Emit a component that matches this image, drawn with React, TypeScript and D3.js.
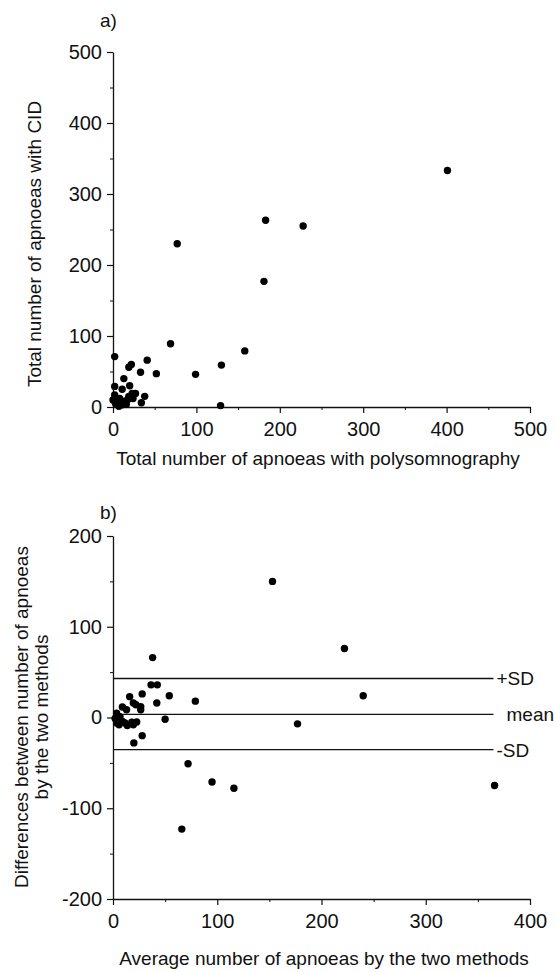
import React, { useEffect, useRef } from "react";
import * as d3 from "d3";

// Panel a: [polysomnography, CID]
const panelA: [number, number][] = [
  [401, 333], [183, 263], [228, 255], [77, 230], [181, 177], [69, 89], [158, 79], [130, 59], [99, 46], [129, 2],
  [2, 71], [41, 66], [22, 60], [19, 56], [33, 49], [52, 47], [13, 40], [2, 29], [20, 30], [11, 25],
  [23, 19], [2, 17], [38, 15], [19, 15], [8, 12], [0, 10], [34, 6], [3, 5], [6, 3], [10, 6],
  [14, 8], [18, 11], [7, 1], [11, 3], [4, 9], [16, 4], [27, 19], [24, 12],
];

// Panel b: [average, difference]
const panelB: [number, number][] = [
  [153, 150], [222, 76], [240, 24], [177, -7], [366, -75], [116, -78], [95, -71], [72, -51], [66, -123],
  [38, 66], [36.5, 36], [42.5, 36], [28, 26], [54, 24], [16, 23], [79, 18], [42, 16], [19.5, 16], [22, 14],
  [26.6, 12], [26.6, 8.5], [9, 11.5], [13, 8.5], [3.5, 4.7], [6.7, 1], [2, -1], [5.8, -8], [9, -4.4],
  [13.7, -8.8], [18, -5.2], [22.7, -5], [50, -2], [28, -20], [20, -28], [3.5, -6], [11.5, -6], [19.5, -8], [5, -2.5],
];

const aTicks = [0, 100, 200, 300, 400, 500];
const aMinor = [50, 150, 250, 350, 450];
const bXTicks = [0, 100, 200, 300, 400];
const bXMinor = [50, 150, 250, 350];
const bYTicks = [-200, -100, 0, 100, 200];
const bYMinor = [-150, -50, 50, 150];

const refLabels = ["+SD", "mean", "-SD"];
const refValues = [43, 3.5, -35.5];
const refLineEnd = 365;

const FONT = "'Liberation Sans', Arial, Helvetica, sans-serif";
const INK = "#111";

export default function App() {
  const ref = useRef<SVGSVGElement>(null);

  useEffect(() => {
    const svg = d3.select(ref.current);
    svg.selectAll("*").remove();

    const styleAxis = (g: any) => {
      g.attr("font-size", 20).attr("font-family", FONT).attr("color", INK);
      g.select(".domain").attr("stroke-width", 1.3);
      g.selectAll(".tick line").attr("stroke-width", 1.2);
    };

    const drawPanel = (
      x: d3.ScaleLinear<number, number>,
      y: d3.ScaleLinear<number, number>,
      xt: number[], xm: number[], yt: number[], ym: number[]
    ) => {
      const [x0] = x.range();
      const [y0] = y.range();
      svg.append("g").attr("transform", `translate(0,${y0})`)
        .call(d3.axisBottom(x).tickValues(xm).tickSize(3).tickSizeOuter(0).tickFormat(() => ""))
        .call((g: any) => { g.select(".domain").remove(); g.attr("color", INK); });
      svg.append("g").attr("transform", `translate(${x0},0)`)
        .call(d3.axisLeft(y).tickValues(ym).tickSize(3).tickSizeOuter(0).tickFormat(() => ""))
        .call((g: any) => { g.select(".domain").remove(); g.attr("color", INK); });
      svg.append("g").attr("transform", `translate(0,${y0})`)
        .call(d3.axisBottom(x).tickValues(xt).tickSize(6).tickPadding(9).tickSizeOuter(0).tickFormat((d: any) => String(d)))
        .call(styleAxis);
      svg.append("g").attr("transform", `translate(${x0},0)`)
        .call(d3.axisLeft(y).tickValues(yt).tickSize(6).tickPadding(5).tickSizeOuter(0).tickFormat((d: any) => String(d)))
        .call(styleAxis);
    };

    // ---------- Panel a ----------
    const xA = d3.scaleLinear().domain([0, 500]).range([113, 530]);
    const yA = d3.scaleLinear().domain([0, 500]).range([407, 52]);
    drawPanel(xA, yA, aTicks, aMinor, aTicks, aMinor);

    svg.append("g").selectAll("circle").data(panelA).join("circle")
      .attr("cx", (d) => xA(d[0])).attr("cy", (d) => yA(d[1])).attr("r", 3.7).attr("fill", "#000");

    svg.append("text").attr("x", 100).attr("y", 27).text("a)")
      .attr("font-family", FONT).attr("font-size", 19).attr("fill", INK);
    svg.append("text").attr("x", 318).attr("y", 465).attr("text-anchor", "middle")
      .text("Total number of apnoeas with polysomnography")
      .attr("font-family", FONT).attr("font-size", 19).attr("fill", INK);
    svg.append("text").attr("transform", "translate(41,244) rotate(-90)").attr("text-anchor", "middle")
      .text("Total number of apnoeas with CID")
      .attr("font-family", FONT).attr("font-size", 19).attr("fill", INK);

    // ---------- Panel b ----------
    const xB = d3.scaleLinear().domain([0, 400]).range([113, 530]);
    const yB = d3.scaleLinear().domain([-200, 200]).range([899, 536]);

    refValues.forEach((v, i) => {
      svg.append("line")
        .attr("x1", xB(0)).attr("x2", xB(refLineEnd))
        .attr("y1", yB(v)).attr("y2", yB(v))
        .attr("stroke", INK).attr("stroke-width", 1.3);
      svg.append("text")
        .attr("x", xB(refLineEnd) + (refLabels[i] === "mean" ? 13 : 3))
        .attr("y", yB(v)).attr("dy", "0.36em")
        .text(refLabels[i])
        .attr("font-family", FONT).attr("font-size", 19).attr("fill", INK);
    });

    drawPanel(xB, yB, bXTicks, bXMinor, bYTicks, bYMinor);

    svg.append("g").selectAll("circle").data(panelB).join("circle")
      .attr("cx", (d) => xB(d[0])).attr("cy", (d) => yB(d[1])).attr("r", 3.7).attr("fill", "#000");

    svg.append("text").attr("x", 100).attr("y", 519).text("b)")
      .attr("font-family", FONT).attr("font-size", 19).attr("fill", INK);
    svg.append("text").attr("x", 324).attr("y", 965).attr("text-anchor", "middle")
      .text("Average number of apnoeas by the two methods")
      .attr("font-family", FONT).attr("font-size", 19).attr("fill", INK);
    svg.append("text").attr("transform", "translate(28,717) rotate(-90)").attr("text-anchor", "middle")
      .text("Differences between number of apnoeas")
      .attr("font-family", FONT).attr("font-size", 19).attr("fill", INK);
    svg.append("text").attr("transform", "translate(48,717) rotate(-90)").attr("text-anchor", "middle")
      .text("by the two methods")
      .attr("font-family", FONT).attr("font-size", 19).attr("fill", INK);
  }, []);

  return (
    <svg
      ref={ref}
      width={556}
      height={972}
      style={{ position: "absolute", left: 0, top: 0, background: "#fff" }}
    />
  );
}
